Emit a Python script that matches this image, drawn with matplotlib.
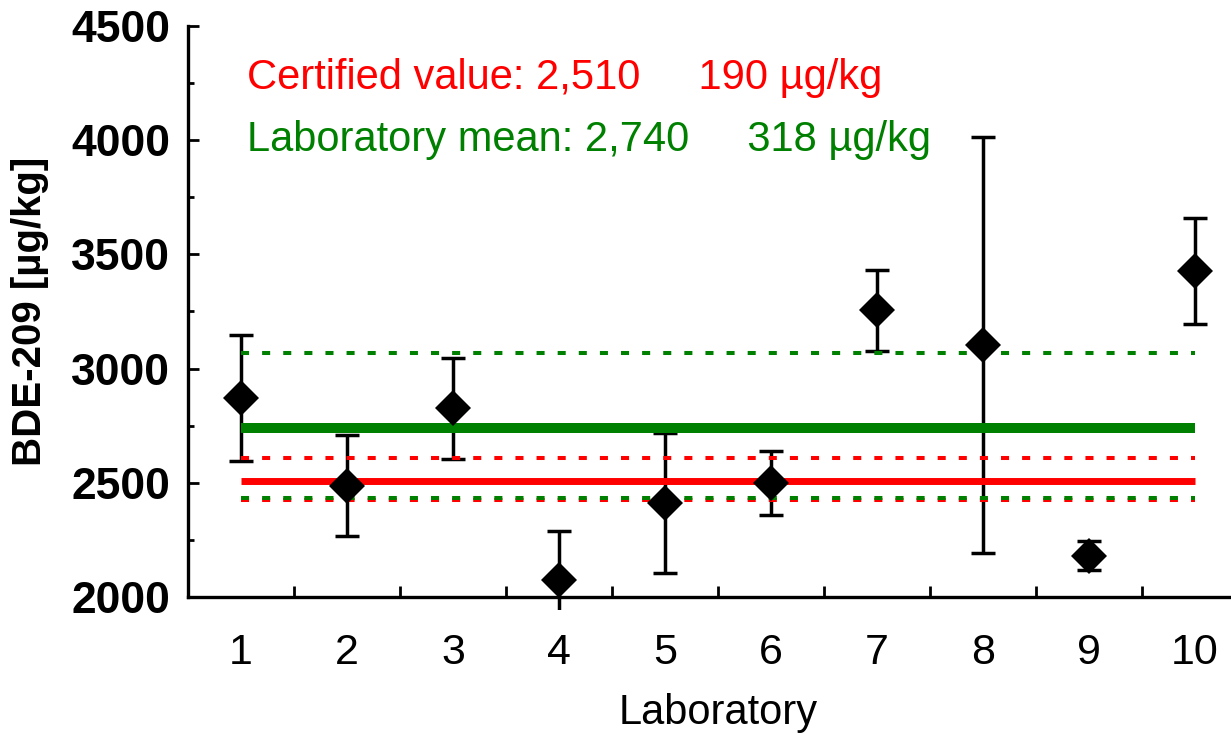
import matplotlib
matplotlib.use("Agg")
import matplotlib.pyplot as plt
from matplotlib.transforms import Bbox, TransformedBbox

# data
labs = [1, 2, 3, 4, 5, 6, 7, 8, 9, 10]
means = [2873, 2487, 2826, 2073, 2410, 2499, 3255, 3103, 2181, 3427]
sd = [276, 222, 222, 215, 307, 140, 176, 912, 62, 232]

cert_value = 2510
cert_band = [2610, 2425]
lab_mean = 2740
lab_band = [3070, 2435]

cert_text = "Certified value: 2,510     190 µg/kg"
mean_text = "Laboratory mean: 2,740     318 µg/kg"

font = ["Liberation Sans", "DejaVu Sans"]
plt.rcParams["lines.scale_dashes"] = False

fig = plt.figure(figsize=(12.31, 7.34), dpi=100)
ax = fig.add_axes([188 / 1231, 137 / 734, 1060 / 1231, 571 / 734])

eb = ax.errorbar(labs, means, yerr=sd, fmt="none", ecolor="black",
                 elinewidth=2.5, capsize=8.6, capthick=2.5, zorder=2)
# the lab 4 bar pokes a little below the x axis in the original
clipbox = TransformedBbox(Bbox([[0, -0.023], [1, 1]]), ax.transAxes)
for c in eb.lines[2]:
    c.set_clip_box(clipbox)

dash = (0, (5.8, 9.4))
ax.hlines(cert_band, labs[0], labs[-1], colors="red", linewidth=2.9,
          linestyles=[dash], zorder=3)
ax.hlines(lab_band, labs[0], labs[-1], colors="green", linewidth=2.9,
          linestyles=[dash], zorder=3)
ax.hlines(cert_value, labs[0], labs[-1], colors="red", linewidth=5, zorder=3)
ax.hlines(lab_mean, labs[0], labs[-1], colors="green", linewidth=7.2, zorder=3)

ax.plot(labs, means, "D", color="black", markersize=18.5, markeredgewidth=0,
        zorder=4)

ax.text(0.056, 0.909, cert_text, transform=ax.transAxes, color="red",
        fontsize=30, family=font, va="center", ha="left")
ax.text(0.056, 0.800, mean_text, transform=ax.transAxes, color="green",
        fontsize=30, family=font, va="center", ha="left")

ax.set_xlim(0.5, 10.5)
ax.set_ylim(2000, 4500)
ax.set_xticks(labs)
ax.set_xticklabels([str(i) for i in labs], family=font, fontsize=31)
ax.set_xticks([i + 0.5 for i in labs], minor=True)
ax.set_yticks(range(2000, 4501, 500))
ax.set_yticklabels([str(v) for v in range(2000, 4501, 500)], family=font,
                   fontsize=32, fontweight="bold")
ax.set_yticks(range(2250, 4500, 500), minor=True)

ax.tick_params(axis="x", which="major", length=0, pad=26)
ax.tick_params(axis="x", which="minor", direction="in", length=8, width=2)
ax.tick_params(axis="y", which="major", direction="in", length=8, width=2, pad=13)
ax.tick_params(axis="y", which="minor", direction="in", length=4, width=2)

for s in ["top", "right"]:
    ax.spines[s].set_visible(False)
for s in ["left", "bottom"]:
    ax.spines[s].set_linewidth(2.4)

ax.set_xlabel("Laboratory", family=font, fontsize=30, labelpad=14)
ax.set_ylabel("BDE-209 [µg/kg]", family=font, fontsize=29, fontweight="bold",
              labelpad=16)

fig.savefig("out.png", dpi=100)
